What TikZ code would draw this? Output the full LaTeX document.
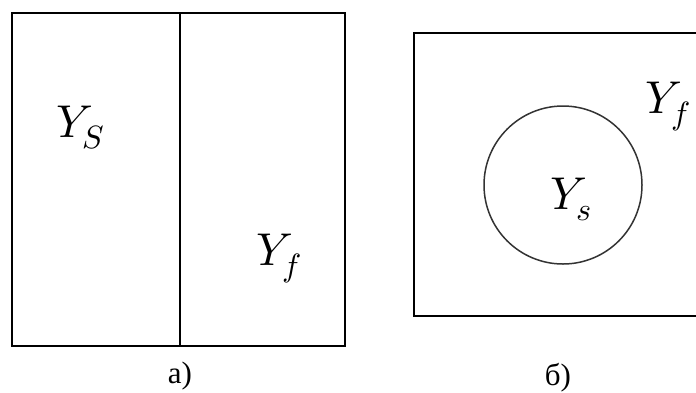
\documentclass[tikz,border=0pt]{standalone}
\usepackage{fontspec}
\usepackage{unicode-math}
\setmainfont{Liberation Serif}
\setmathfont{Latin Modern Math}
\usepackage{tikz}
\tikzset{
    frame/.style={draw=black, line width=2pt},
    divider/.style={draw=black, line width=2.8pt},
    region/.style={draw=black!80, line width=1.5pt},
    setlabel/.style={anchor=base west, inner sep=0pt, font=\fontsize{46}{50}\selectfont},
    caption/.style={anchor=base, inner sep=0pt, font=\fontsize{31}{34}\selectfont}
}

\begin{document}
\begin{tikzpicture}[x=1pt, y=-1pt]
    \useasboundingbox (0,0) rectangle (696,392);

    % Left side: split domain
    \draw [frame] (12,13) rectangle (345,346);
    \draw [divider] (180,13) -- (180,346);
    \node (ysA) [setlabel] at (56,137) {$Y_S$};
    \node (yfA) [setlabel] at (256,265) {$Y_f$};
    \node (capA) [caption] at (180,383) {а)};

    % Right side: embedded domain
    \draw [frame] (699,33) -- (414,33) -- (414,316) -- (699,316);
    \draw [region] (563,185) circle (79);
    \node (ysB) [setlabel] at (550,209) {$Y_s$};
    \node (yfB) [setlabel] at (645,113) {$Y_f$};
    \node (capB) [caption] at (558,385) {б)};
\end{tikzpicture}
\end{document}
